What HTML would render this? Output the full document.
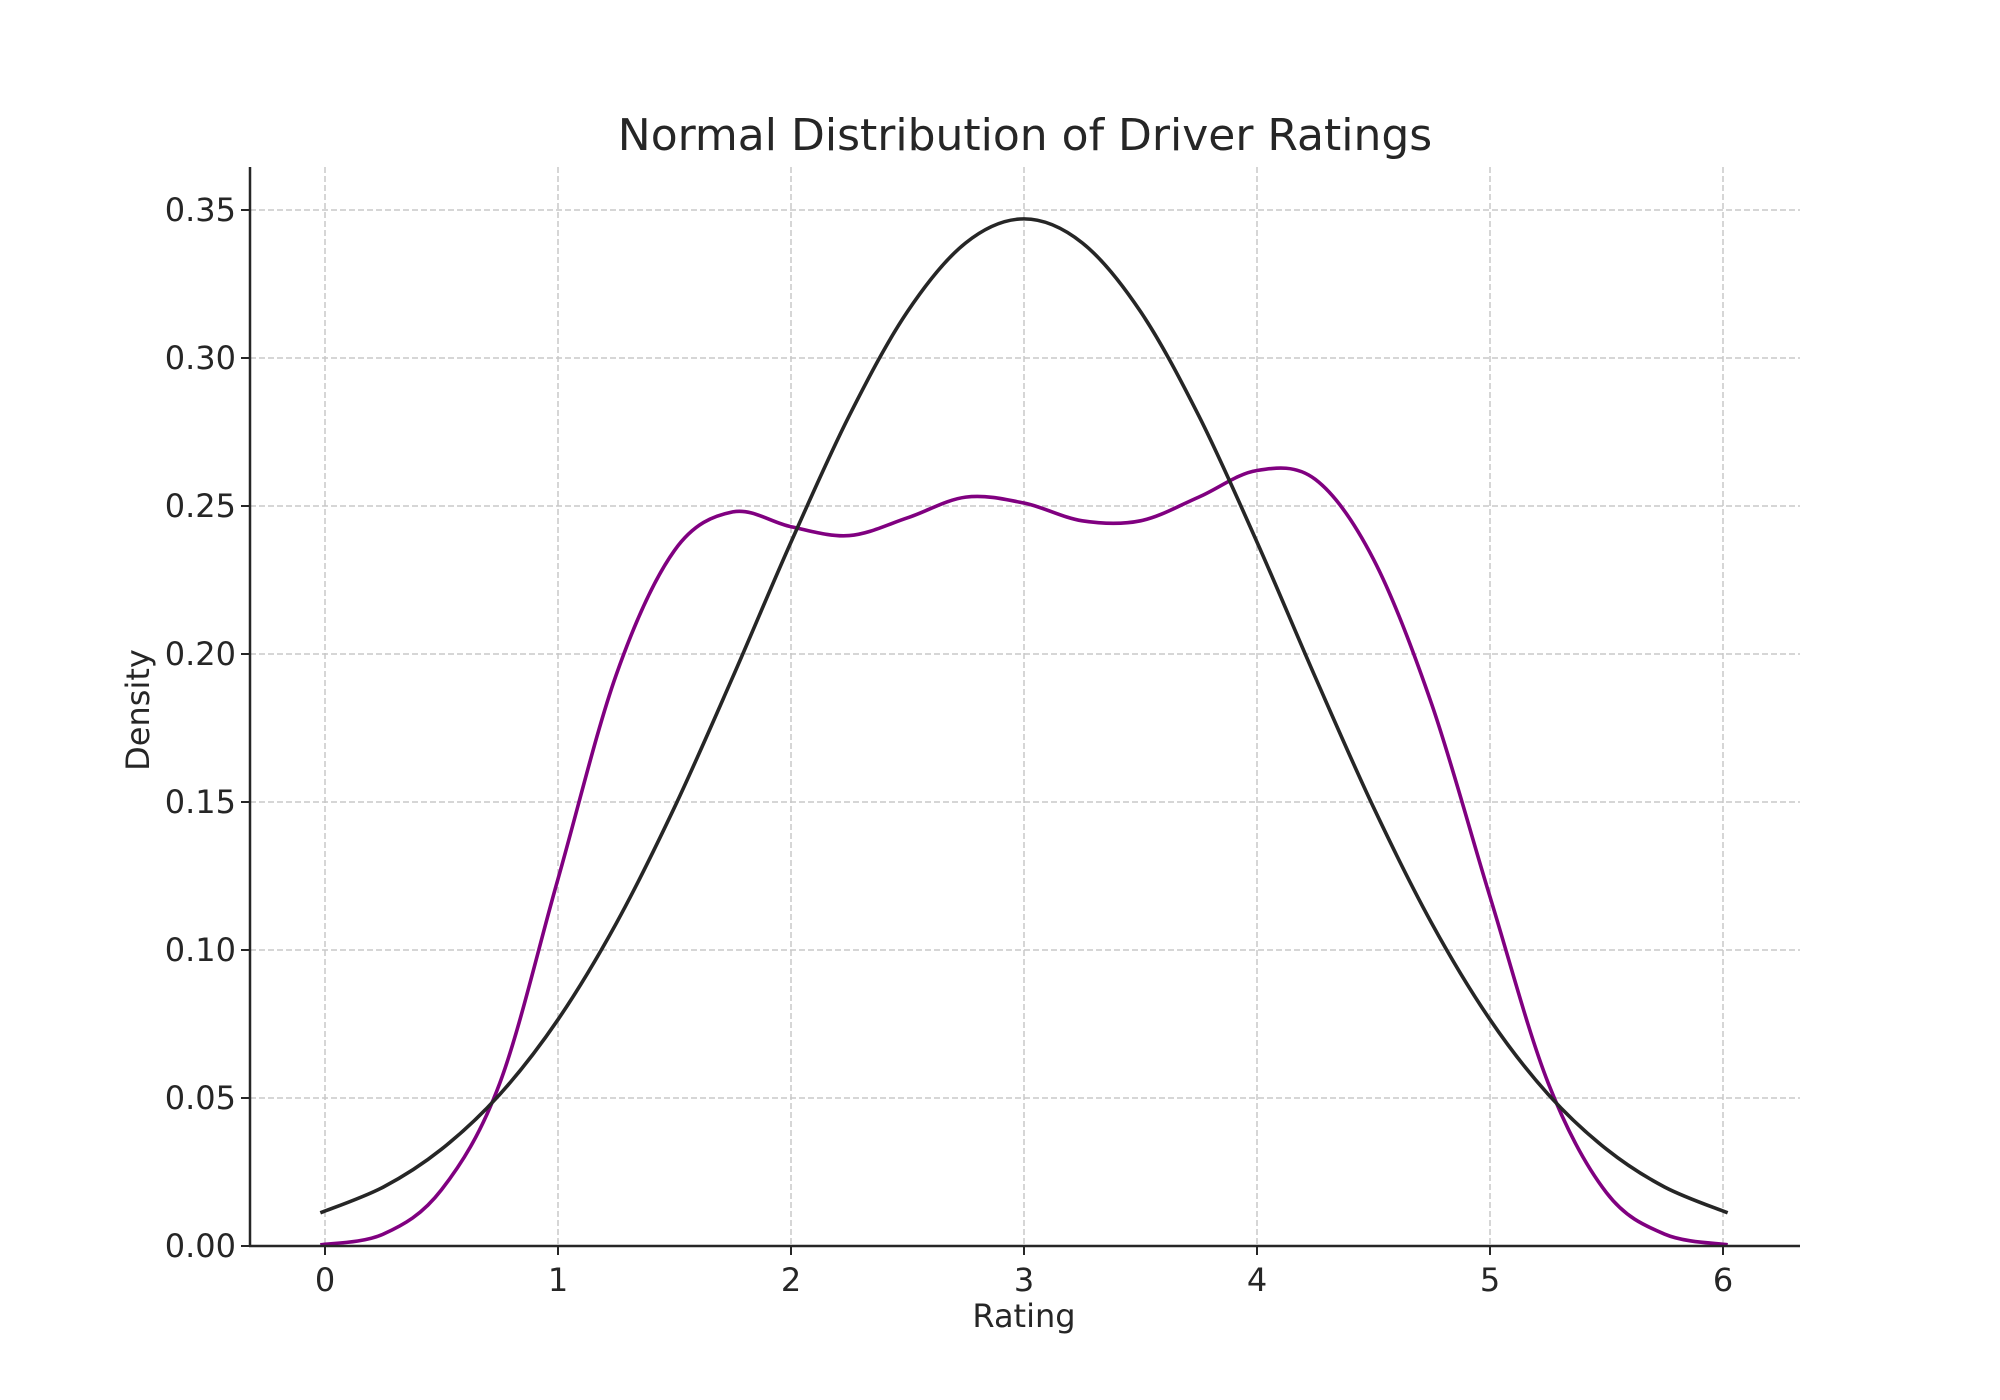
<!DOCTYPE html>
<html><head><meta charset="utf-8"><style>
html,body{margin:0;padding:0;background:#fff}
svg{display:block}
text{font-family:"DejaVu Sans","Liberation Sans",sans-serif;fill:#262626}
</style></head><body>
<svg id="chart" width="2000" height="1400" viewBox="0 0 2000 1400">
<rect width="2000" height="1400" fill="#fff"/>
<text x="1025" y="150" font-size="44" text-anchor="middle" fill="#333">Normal Distribution of Driver Ratings</text>
<g id="grid"></g><g id="series"></g><g id="axes"></g>
<text x="1024" y="1327" font-size="32" text-anchor="middle">Rating</text>
<text transform="translate(149,710) rotate(-90)" font-size="32" text-anchor="middle">Density</text>
</svg>
<script>
const xTicks=[0,1,2,3,4,5,6];
const yTicks=[0,0.05,0.10,0.15,0.20,0.25,0.30,0.35];
const yTickLabels=["0.00","0.05","0.10","0.15","0.20","0.25","0.30","0.35"];
const gridX=[-0.02,0.25,0.5,0.75,1,1.25,1.5,1.75,2,2.25,2.5,2.75,3,3.25,3.5,3.75,4,4.25,4.5,4.75,5,5.25,5.5,5.75,6.02];
const normalVals=[0.0112,0.0199,0.0327,0.0512,0.0765,0.109,0.1482,0.1922,0.2378,0.2805,0.3157,0.3389,0.347,0.3389,0.3157,0.2805,0.2378,0.1922,0.1482,0.109,0.0765,0.0512,0.0327,0.0199,0.0112];
const kdeVals=[0.0004,0.004,0.019,0.055,0.124,0.193,0.235,0.248,0.243,0.240,0.246,0.253,0.251,0.245,0.245,0.253,0.262,0.259,0.232,0.183,0.118,0.055,0.018,0.004,0.0004];

const L=250,R=1800,T=167,B=1246;
const X=v=>325+v*233;
const Y=v=>B-v*(B-210)/0.35;
const NS='http://www.w3.org/2000/svg';
function mk(tag,attrs,parent){const e=document.createElementNS(NS,tag);for(const k in attrs)e.setAttribute(k,attrs[k]);parent.appendChild(e);return e;}
const grid=document.getElementById('grid'),axes=document.getElementById('axes'),series=document.getElementById('series');
xTicks.forEach(t=>{
  const g=mk('line',{x1:X(t),x2:X(t),y1:T,y2:B,stroke:'#c8c8c8','stroke-width':1.5,'stroke-dasharray':'6,3'},grid);
  
  
  const tk=mk('line',{x1:X(t),x2:X(t),y1:B,y2:B+9,stroke:'#262626','stroke-width':2},axes);
  
  
  const tx=mk('text',{x:X(t),y:B+45,'font-size':32,'text-anchor':'middle'},axes);
  tx.textContent=t;
  
  
});
yTicks.forEach((t,i)=>{
  const g=mk('line',{x1:L,x2:R,y1:Y(t),y2:Y(t),stroke:'#c8c8c8','stroke-width':1.5,'stroke-dasharray':'6,3'},grid);
  
  
  const tk=mk('line',{x1:L-9,x2:L,y1:Y(t),y2:Y(t),stroke:'#262626','stroke-width':2},axes);
  
  
  const tx=mk('text',{x:L-14,y:Y(t)+11,'font-size':32,'text-anchor':'end'},axes);
  tx.textContent=yTickLabels[i];
  
  
});
const ax1=mk('line',{x1:L,x2:L,y1:T,y2:B+1,stroke:'#262626','stroke-width':2.5},axes);


const ax2=mk('line',{x1:L-1,x2:R,y1:B,y2:B,stroke:'#262626','stroke-width':2.5},axes);


function pathFrom(xs,ys){
  const p=xs.map((x,i)=>[X(x),Y(ys[i])]);
  let d='M'+p[0][0]+','+p[0][1];
  for(let i=0;i<p.length-1;i++){
    const p0=p[Math.max(0,i-1)],p1=p[i],p2=p[i+1],p3=p[Math.min(p.length-1,i+2)];
    const c1=[p1[0]+(p2[0]-p0[0])/6,p1[1]+(p2[1]-p0[1])/6];
    const c2=[p2[0]-(p3[0]-p1[0])/6,p2[1]-(p3[1]-p1[1])/6];
    d+=' C'+c1[0]+','+c1[1]+' '+c2[0]+','+c2[1]+' '+p2[0]+','+p2[1];
  }
  return d;
}
const k=mk('path',{d:pathFrom(gridX,kdeVals),fill:'none',stroke:'#800080','stroke-width':3.6},series);


const n=mk('path',{d:pathFrom(gridX,normalVals),fill:'none',stroke:'#262626','stroke-width':3.6},series);


</script>
</body></html>
